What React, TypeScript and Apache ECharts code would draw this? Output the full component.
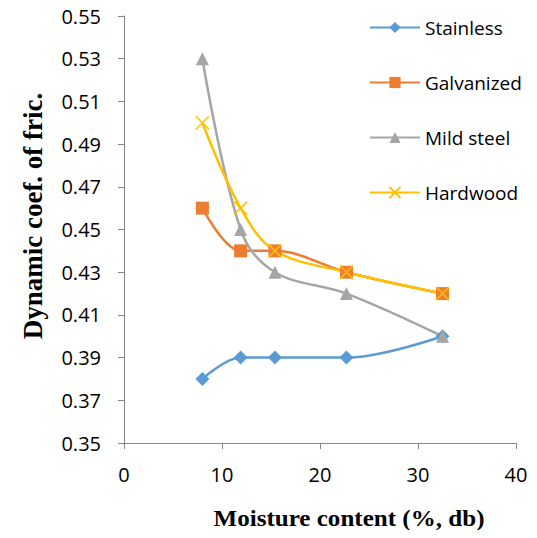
import React, { useEffect, useRef } from "react";
import * as echarts from "echarts";

const moisture = [8, 11.9, 15.4, 22.7, 32.5];
const stainless = [0.38, 0.39, 0.39, 0.39, 0.4];
const galvanized = [0.46, 0.44, 0.44, 0.43, 0.42];
const mildSteel = [0.53, 0.45, 0.43, 0.42, 0.4];
const hardwood = [0.5, 0.46, 0.44, 0.43, 0.42];

const seriesNames = ["Stainless", "Galvanized", "Mild steel", "Hardwood"];
const seriesColors = ["#5B9BD5", "#ED7D31", "#A5A5A5", "#FFC000"];

const pair = (ys: number[]) => moisture.map((x, i) => [x, ys[i]]);

export default function App() {
  const ref = useRef<HTMLDivElement>(null);
  useEffect(() => {
    if (!ref.current) return;
    const chart = echarts.init(ref.current, undefined, { renderer: "svg" });
    const font = "'Open Sans', 'Noto Sans', sans-serif";
    const serif = "'Liberation Serif', 'Times New Roman', serif";
    const mk = (i: number, ys: number[], symbol: string, size: number, extra: any = {}) => ({
      name: seriesNames[i],
      type: "line",
      data: pair(ys),
      smooth: 0.35,
      symbol,
      symbolSize: size,
      lineStyle: { color: seriesColors[i], width: 2.5 },
      itemStyle: { color: seriesColors[i], ...extra },
    });
    chart.setOption({
      animation: false,
      textStyle: { fontFamily: font },
      grid: { left: 124, top: 16, right: 21, bottom: 95, containLabel: false },
      xAxis: {
        type: "value",
        min: 0,
        max: 40,
        interval: 10,
        splitLine: { show: false },
        axisLine: { lineStyle: { color: "#868686", width: 1 } },
        axisTick: { show: true, length: 6, lineStyle: { color: "#868686" } },
        axisLabel: { color: "#000", fontSize: 20, margin: 21, fontFamily: font },
      },
      yAxis: {
        type: "value",
        min: 0.35,
        max: 0.55,
        interval: 0.02,
        splitLine: { show: false },
        axisLine: { show: true, lineStyle: { color: "#868686", width: 1 } },
        axisTick: { show: true, length: 6, lineStyle: { color: "#868686" } },
        axisLabel: {
          color: "#000",
          fontSize: 20,
          margin: 23,
          fontFamily: font,
          formatter: (v: number) => v.toFixed(2),
        },
      },
      legend: {
        orient: "vertical",
        left: 364,
        top: 13,
        itemWidth: 50,
        itemHeight: 14,
        itemGap: 36,
        textStyle: { color: "#000", fontSize: 19, fontFamily: font },
        data: seriesNames,
      },
      graphic: [
        {
          type: "text",
          x: 33,
          y: 216,
          rotation: Math.PI / 2,
          style: {
            text: "Dynamic coef. of fric.",
            font: `bold 27px ${serif}`,
            fill: "#000",
            align: "center",
            verticalAlign: "middle",
          },
        },
        {
          type: "text",
          x: 349,
          y: 518,
          scaleX: 1.09,
          style: {
            text: "Moisture content (%, db)",
            font: `bold 23px ${serif}`,
            fill: "#000",
            align: "center",
            verticalAlign: "middle",
          },
        },
      ],
      series: [
        mk(0, stainless, "diamond", 14),
        mk(1, galvanized, "rect", 13),
        mk(2, mildSteel, "triangle", 13),
        mk(3, hardwood, "path://M0,0L10,10M10,0L0,10", 13, {
          color: "none",
          borderColor: seriesColors[3],
          borderWidth: 1.5,
        }),
      ],
    });
    return () => chart.dispose();
  }, []);
  return <div ref={ref} style={{ width: 537, height: 538, margin: -8 }} />;
}
